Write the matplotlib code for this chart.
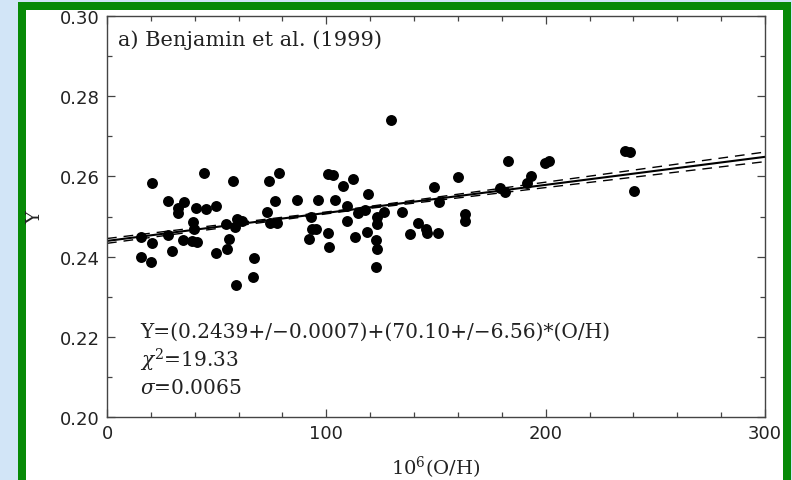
import matplotlib
matplotlib.use("Agg")
import matplotlib.pyplot as plt
from matplotlib.patches import Rectangle
import numpy as np

# ---- data ----
oh = [20.4, 44.2, 57.3, 27.9, 35.1, 32.2, 32.5, 40.6, 45.1, 49.7,
      39.3, 39.8, 54.3, 59.1, 61.4, 58.4, 15.5, 20.4, 27.9, 34.8,
      38.6, 41.2, 55.8, 54.6, 49.7, 29.8, 15.4, 19.9, 58.8, 74.0,
      78.6, 100.9, 103.2, 112.3, 107.7, 119.1, 76.6, 86.5, 96.3, 104.0,
      109.6, 117.6, 114.6, 109.3, 72.8, 74.3, 77.6, 92.9, 93.3, 95.3,
      92.2, 100.9, 101.4, 113.1, 118.4, 122.6, 123.0, 67.0, 66.7, 122.6,
      129.3, 182.7, 159.9, 149.2, 151.4, 179.2, 181.5, 134.4, 126.3, 122.9,
      123.0, 141.7, 145.4, 145.8, 151.1, 138.1, 163.2, 163.2, 199.7, 201.7,
      193.2, 191.4, 236.2, 238.5, 240.4]
Yvals = [0.2583, 0.2608, 0.2588, 0.2538, 0.2535, 0.2520, 0.2508, 0.2522, 0.2518, 0.2525,
         0.2487, 0.2468, 0.2481, 0.2493, 0.2489, 0.2473, 0.2448, 0.2435, 0.2453, 0.2441,
         0.2439, 0.2437, 0.2443, 0.2420, 0.2408, 0.2413, 0.2399, 0.2387, 0.2328, 0.2588,
         0.2608, 0.2606, 0.2603, 0.2593, 0.2575, 0.2556, 0.2539, 0.2541, 0.2542, 0.2542,
         0.2527, 0.2517, 0.2508, 0.2488, 0.2512, 0.2483, 0.2483, 0.2499, 0.2470, 0.2468,
         0.2445, 0.2458, 0.2423, 0.2448, 0.2462, 0.2442, 0.2418, 0.2396, 0.2349, 0.2375,
         0.2740, 0.2638, 0.2599, 0.2573, 0.2535, 0.2570, 0.2560, 0.2510, 0.2512, 0.2498,
         0.2481, 0.2483, 0.2470, 0.2460, 0.2460, 0.2456, 0.2506, 0.2489, 0.2633, 0.2639,
         0.2602, 0.2583, 0.2664, 0.2660, 0.2564]

fit_x = [0, 300]
fit_y = [0.2439, 0.2649]
band_x = [0, 110, 300]
band_upper = [0.2445, 0.2518, 0.2661]
band_lower = [0.2433, 0.2514, 0.2637]

xticks = [0, 100, 200, 300]
yticks = [0.20, 0.22, 0.24, 0.26, 0.28, 0.30]
ytick_labels = ["0.20", "0.22", "0.24", "0.26", "0.28", "0.30"]

plt.rcParams["mathtext.fontset"] = "dejavuserif"

W, H = 792, 481
fig = plt.figure(figsize=(W / 100, H / 100), dpi=100)
fig.patch.set_facecolor("#d2e5f7")

def px(x0, y0, x1, y1):
    return (x0 / W, 1 - y1 / H), (x1 - x0) / W, (y1 - y0) / H

# green frame and white panel
xy, w, h = px(18, 3, 791, 495)
fig.patches.append(Rectangle(xy, w, h, transform=fig.transFigure,
                             facecolor="#078a07", edgecolor="none", zorder=-10))
xy, w, h = px(26, 11, 783, 495)
fig.patches.append(Rectangle(xy, w, h, transform=fig.transFigure,
                             facecolor="white", edgecolor="none", zorder=-9))

ax = fig.add_axes([107 / W, 1 - 417.7 / H, (765 - 107) / W, (417.7 - 17.3) / H])
ax.set_zorder(5)
ax.set_facecolor("white")

ax.scatter(oh, Yvals, s=62, color="black", zorder=3, linewidths=0)
ax.plot(fit_x, fit_y, color="black", lw=1.5, zorder=2)
ax.plot(band_x, band_upper, color="black", lw=1.0, ls=(0, (7, 5)), zorder=2)
ax.plot(band_x, band_lower, color="black", lw=1.0, ls=(0, (7, 5)), zorder=2)

ax.set_xlim(0, 300)
ax.set_ylim(0.20, 0.30)
ax.set_xticks(xticks)
ax.set_xticklabels([str(t) for t in xticks])
ax.set_yticks(yticks)
ax.set_yticklabels(ytick_labels)
ax.set_xticks(np.arange(0, 301, 20), minor=True)
ax.set_yticks(np.arange(0.20, 0.301, 0.01), minor=True)
ax.tick_params(which="both", direction="in", top=True, right=True,
               color="#444444", width=0.9)
ax.tick_params(which="major", length=5.5, labelsize=13, pad=5,
               labelcolor="#222222")
ax.tick_params(which="minor", length=3.5)
for lab in ax.get_xticklabels() + ax.get_yticklabels():
    lab.set_fontfamily("DejaVu Sans")
for sp in ax.spines.values():
    sp.set_color("#444444")
    sp.set_linewidth(1.0)

serif = "DejaVu Serif"
ax.text(5, 0.2943, "a) Benjamin et al. (1999)", family=serif, fontsize=15,
        va="center", ha="left", color="#222222")
ax.text(15, 0.2213, "Y=(0.2439+/\u22120.0007)+(70.10+/\u22126.56)*(O/H)",
        family=serif, fontsize=14.5, va="center", ha="left", color="#222222")
ax.text(15, 0.2143, r"$\chi^2$=19.33", family=serif, fontsize=14.5,
        va="center", ha="left", color="#222222")
ax.text(15, 0.2073, r"$\sigma$=0.0065", family=serif, fontsize=14.5,
        va="center", ha="left", color="#222222")

ax.set_xlabel(r"10$^6$(O/H)", family=serif, fontsize=14, color="#222222")
ax.set_ylabel("Y", family=serif, fontsize=14, color="#222222")
ax.xaxis.set_label_coords(0.5, -0.126)
ax.yaxis.set_label_coords(-0.109, 0.5)
ax.xaxis.label.set_va("center")
ax.yaxis.label.set_va("center")

fig.savefig("out.png", dpi=100, facecolor=fig.get_facecolor())
